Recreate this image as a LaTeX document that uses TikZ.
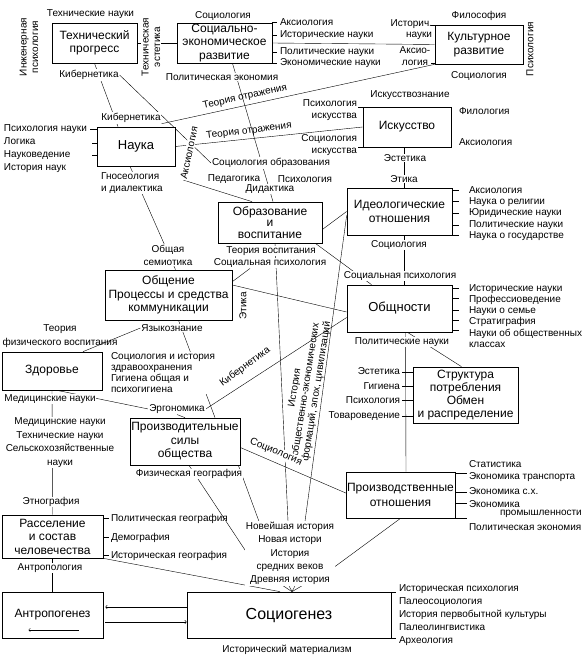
\documentclass[tikz,border=0pt]{standalone}
\usepackage{fontspec}
\setmainfont{Liberation Sans}
\usetikzlibrary{backgrounds}
\tikzset{
  box/.style={draw, line width=0.7pt, fill=white, align=center, inner sep=1pt, font=\fontsize{12}{13.5}\selectfont},
  lbl/.style={inner sep=0.8pt, font=\fontsize{10}{11.5}\selectfont},
  onl/.style={lbl, fill=white},
  lnk/.style={line width=0.5pt},
}

\begin{document}
\begin{tikzpicture}[x=1pt, y=-1pt]
\useasboundingbox (0,0) rectangle (586,669);
% blocks
\node[box, minimum width=85, minimum height=40] (tech) at (94.5,43) {Технический\\прогресс};
\node[box, minimum width=95, minimum height=40] (socec) at (224.5,43) {Социально-\\экономическое\\развитие};
\node[box, minimum width=88, minimum height=39] (kult) at (479,44.5) {Культурное\\развитие};
\node[box, minimum width=78, minimum height=39, font=\fontsize{13}{14}\selectfont] (nauka) at (136,146.5) {Наука};
\node[box, minimum width=88, minimum height=40] (isk) at (407,127) {Искусство};
\node[box, minimum width=104, minimum height=41, font=\fontsize{12}{11.8}\selectfont] (obr) at (270,222.5) {Образование\\и\\воспитание};
\node[box, minimum width=105, minimum height=47] (ideol) at (399.5,211.5) {Идеологические\\отношения};
\node[box, minimum width=127, minimum height=50] (obsh) at (168.5,295) {Общение\\Процессы и средства\\коммуникации};
\node[box, minimum width=105, minimum height=47, font=\fontsize{13}{14}\selectfont] (obshn) at (399.5,308.5) {Общности};
\node[box, minimum width=100, minimum height=38] (zdor) at (52,371) {Здоровье};
\node[box, minimum width=105, minimum height=56, font=\fontsize{12}{13}\selectfont] (struk) at (465.5,395) {Структура\\потребления\\Обмен\\и распределение};
\node[box, minimum width=110, minimum height=47] (prsily) at (185,441.5) {Производительные\\силы\\общества};
\node[box, minimum width=107, minimum height=46, font=\fontsize{12}{15}\selectfont] (protn) at (400.5,495) {Производственные\\отношения};
\node[box, minimum width=101, minimum height=43] (rassel) at (52.5,536.5) {Расселение\\и состав\\человечества};
\node[box, minimum width=101, minimum height=46] (antrop) at (52.5,615) {Антропогенез};
\node[box, minimum width=204, minimum height=46, font=\fontsize{16}{18}\selectfont] (socgen) at (289,615) {Социогенез};

% labels
\node[lbl] (techsci) at (90.5,14) {Технические науки};
\node[lbl, rotate=90, align=center] (engpsy) at (29,47) {Инженерная\\психология};
\node[onl, rotate=90, align=center] (techest) at (151,47) {Техническая\\эстетика};
\node[onl] (kib1) at (89,75) {Кибернетика};
\node[onl] (kib2) at (131,118) {Кибернетика};
\node[lbl] (socio1) at (223,16) {Социология};
\node[onl] (polec1) at (222,77) {Политическая экономия};
\node[lbl, anchor=west] (aks1) at (279,22) {Аксиология};
\node[lbl, anchor=west] (hist1) at (279,35) {Исторические науки};
\node[lbl, anchor=west] (pol1) at (279,52) {Политические науки};
\node[lbl, anchor=west] (econ1) at (279,63) {Экономические науки};
\node[lbl] (philos) at (479,16) {Философия};
\node[lbl] (socio2) at (479,76) {Социология};
\node[lbl, rotate=90] (psy1) at (530,49) {Психология};
\node[lbl, align=right, anchor=east] (histshort) at (433,29.5) {Историч.\\науки};
\node[lbl, align=center] (aks2) at (415,56) {Аксио-\\логия};
\node[lbl, rotate=12.5] (refl1) at (245,97) {Теория отражения};
\node[lbl, rotate=7] (refl2) at (249,131) {Теория отражения};
\node[lbl, align=right, anchor=east] (artpsy) at (358,110) {Психология\\искусства};
\node[lbl, align=right, anchor=east] (artsoc) at (358,145) {Социология\\искусства};
\node[lbl] (artsci) at (410,95) {Искусствознание};
\node[lbl, anchor=west] (philol) at (458,111) {Филология};
\node[lbl, anchor=west] (aks3) at (458,142) {Аксиология};
\node[onl] (aesth1) at (405,158) {Эстетика};
\node[onl] (ethic1) at (404,179) {Этика};
\node[lbl, align=left, anchor=west, font=\fontsize{10}{13}\selectfont] (scilist) at (3,148.5) {Психология науки\\Логика\\Науковедение\\История наук};
\node[onl, rotate=78] (aks4) at (189,153) {Аксиология};
\node[onl, align=left] (gnos) at (132,183) {Гносеология\\и диалектика};
\node[onl, align=center, font=\fontsize{10}{13}\selectfont] (semio) at (168,255) {Общая\\семиотика};
\node[onl] (socedu) at (271,163) {Социология образования};
\node[lbl] (pedag) at (234,179) {Педагогика};
\node[lbl] (psy2) at (305,179) {Психология};
\node[onl] (didak) at (270,189) {Дидактика};
\node[onl] (teorv) at (271,251) {Теория воспитания};
\node[onl] (socpsy1) at (270,263) {Социальная психология};
\node[onl] (socio3) at (399,245) {Социология};
\node[onl] (socpsy2) at (400,276) {Социальная психология};
\node[lbl, rotate=90] (ethic2) at (243,306) {Этика};
\node[lbl, align=left, anchor=west, font=\fontsize{10}{11.3}\selectfont] (idlist) at (468,213.5) {Аксиология\\Наука о религии\\Юридические науки\\Политические науки\\Наука о государстве};
\node[lbl, align=left, anchor=west, font=\fontsize{10}{11.2}\selectfont] (oblist) at (468,316) {Исторические науки\\Профессиоведение\\Науки о семье\\Стратиграфия\\Науки об общественных\\классах};
\node[onl] (pol2) at (402,342) {Политические науки};
\node[onl] (yaz) at (172,328) {Языкознание};
\node[lbl, align=center, font=\fontsize{10}{14}\selectfont] (fizv) at (60,336) {Теория\\физического воспитания};
\node[onl, align=left, anchor=west, font=\fontsize{10}{11}\selectfont] (healthsoc) at (110,373) {Социология и история\\здравоохранения\\Гигиена общая и\\психогигиена};
\node[onl] (med1) at (50,399) {Медицинские науки};
\node[onl] (ergo) at (177,409) {Эргономика};
\node[onl, align=center, font=\fontsize{10}{13.7}\selectfont] (medlist) at (60,442.5) {Медицинские науки\\Технические науки\\Сельскохозяйственные\\науки};
\node[onl] (ethno) at (51,502) {Этнография};
\node[onl, rotate=36] (kib3) at (245,367) {Кибернетика};
\node[lbl, rotate=81, align=center, font=\fontsize{10}{11}\selectfont] (histform) at (306,390) {История\\общественно-экономических\\формаций, эпох, цивилизаций};
\node[onl, rotate=-23] (socio4) at (276,452) {Социология};
\node[lbl, align=right, anchor=east, font=\fontsize{10}{14.5}\selectfont] (strlist) at (401,394) {Эстетика\\Гигиена\\Психология\\Товароведение};
\node[lbl, anchor=west] (stat) at (468,464) {Статистика};
\node[lbl, anchor=west] (ectr) at (468,477) {Экономика транспорта};
\node[lbl, anchor=west] (ecsh) at (468,491) {Экономика с.х.};
\node[lbl, anchor=west] (ecind) at (468,504) {Экономика};
\node[lbl, anchor=west] (ecind2) at (499,514) {промышленности};
\node[lbl, anchor=west] (polec2) at (468,527) {Политическая экономия};
\node[onl] (fizgeo) at (189,474) {Физическая география};
\node[onl, align=center, font=\fontsize{10}{13.25}\selectfont] (hist) at (290,553.5) {Новейшая история\\Новая истори\\История\\средних веков\\Древняя история};
\node[lbl, anchor=west] (polgeo) at (110,519) {Политическая география};
\node[lbl, anchor=west] (demog) at (110,538) {Демография};
\node[lbl, anchor=west] (histgeo) at (110,556) {Историческая география};
\node[onl] (anthro) at (50,568) {Антропология};
\node[lbl] (histmat) at (287,650) {Исторический материализм};
\node[lbl, align=left, anchor=west, font=\fontsize{10}{13}\selectfont] (sglist) at (398,615) {Историческая психология\\Палеосоциология\\История первобытной культуры\\Палеолингвистика\\Археология};

% links
\begin{scope}[on background layer, lnk]
\fill[white] (0,0) rectangle (586,669);
\draw (tech.east) -- (socec.west);
\draw (socec.east) -- (kult.west);
\draw (tech.south) -- ([xshift=-18pt]nauka.north);
\draw (kib1.east) -- (socedu.west);
\draw (kib2.south east) -- (kult.south west);
\draw (nauka.east) -- (isk.west);
\draw ([xshift=-6pt]nauka.south) -- ([xshift=7pt]obsh.north);
\draw ([xshift=8pt]socec.south) -- ([xshift=3pt]obr.north);
\draw (aks4.west) -- ([xshift=-18pt]obr.north);
\draw ([xshift=-3pt]isk.south) -- ([xshift=4.5pt]ideol.north);
\draw ([xshift=5pt]obr.south) -- ([xshift=-2pt]hist.north);
\draw ([yshift=-7pt]obr.east) -- (ideol.west);
\draw ([yshift=-4pt]ideol.west) -- ([xshift=15pt]hist.north);
\draw ([xshift=4.5pt]ideol.south) -- ([xshift=4.5pt]obshn.north);
\draw ([xshift=-7pt]obr.south east) -- ([xshift=-28pt]obshn.north);
\draw ([yshift=10pt]obsh.east) -- ([yshift=-3.5pt]obshn.west);
\draw ([xshift=-20pt]socpsy1.south) -- ([yshift=-12pt]obsh.north east);
\draw ([xshift=10pt]obsh.south) -- ([xshift=30pt]prsily.north);
\draw (yaz.west) -- ([xshift=31pt]zdor.north);
\draw ([xshift=5pt]zdor.south) -- (ergo.west);
\draw (ergo.south) -- (prsily.north);
\draw (ergo.east) -- ([yshift=-9pt]obshn.west);
\draw (zdor.south) -- (rassel.north);
\draw (rassel.south) -- (antrop.north);
\draw ([yshift=-6pt]prsily.east) -- ([yshift=2pt]protn.west);
\draw ([xshift=-2pt]prsily.south east) -- ([xshift=14pt]hist.north west);
\draw ([xshift=4pt]prsily.south) -- ([xshift=9pt,yshift=-10pt]hist.west);
\draw (protn.south) -- ([yshift=-13pt]hist.east);
\draw (rassel.south east) -- ([xshift=-9pt]socgen.north);
\draw ([xshift=6pt]obshn.south) -- ([xshift=5.5pt]protn.north);
\draw ([xshift=8pt]obshn.south) -- ([xshift=-4pt]struk.north);
\foreach \dx in {-7,-1,5,12} \draw ([xshift=\dx pt]hist.south) -- ([xshift=3pt]socgen.north);
% ticks
\foreach \dy in {21,8,-9,-20} \draw ([yshift=\dy pt]socec.east) -- +(5,0);
\foreach \dy in {19,-19} \draw ([yshift=\dy pt]kult.west) -- +(-4,0);
\foreach \dy in {20,-20} \draw ([yshift=\dy pt]isk.west) -- +(-5,0);
\foreach \dy/\l in {17.5/7, 3.5/5, -8.5/5} \draw ([yshift=\dy pt]nauka.west) -- +(-\l,0);
\foreach \dy in {21.5,10.5,-1.5,-13.5,-23.5} \draw ([yshift=\dy pt]ideol.east) -- +(7,0);
\foreach \dy in {20.5,10.5,-1.5,-11.5,-21.5} \draw ([yshift=\dy pt]obshn.east) -- +(7,0);
\foreach \dy in {23,9,-5,-21} \draw ([yshift=\dy pt]struk.west) -- +(-11,0);
\foreach \dy in {22,3,-8,-23} \draw ([yshift=\dy pt]protn.east) -- +(12,0);
\foreach \dy in {18.5,-0.5,-18.5} \draw ([yshift=\dy pt]rassel.east) -- +(6,0);
\foreach \dy in {23,-23} \draw ([yshift=\dy pt]socgen.east) -- +(5,0);
\end{scope}

\draw[lnk, ->] ([yshift=8pt]socgen.west) -- ([yshift=8pt,xshift=2pt]antrop.east);
\draw[lnk, ->] ([yshift=-7pt,xshift=2pt]antrop.east) -- ([yshift=-7pt]socgen.west);
\coordinate (arrA) at ([xshift=26pt,yshift=-15pt]antrop.center);
\coordinate (arrB) at ([xshift=-24pt,yshift=-15pt]antrop.center);
\draw[lnk, ->] (arrA) -- (arrB);
\end{tikzpicture}
\end{document}
